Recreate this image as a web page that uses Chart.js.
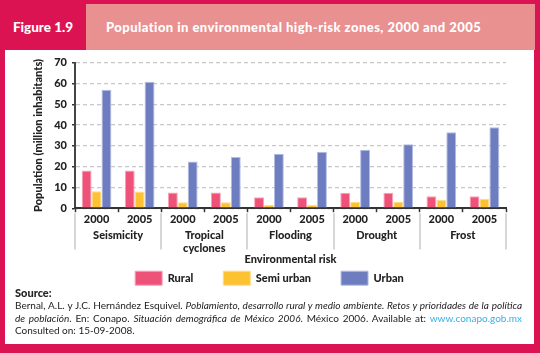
<!DOCTYPE html>
<html>
<head>
<meta charset="utf-8">
<script src="https://cdn.jsdelivr.net/npm/chart.js@4/dist/chart.umd.min.js"></script>
<style>
  html, body { margin:0; padding:0; }
  body { width:540px; height:353px; overflow:hidden; background:#DC1352; position:relative; font-family: Lato, "Open Sans", sans-serif; }
  #figlabel { position:absolute; left:0; top:4px; width:86px; height:46px; line-height:46px; text-align:center; color:#fff; font-weight:900; font-size:13.5px; }
  #titlebox { position:absolute; left:86px; top:4px; width:449px; height:46px; background:#E99191; }
  #titlebox span { position:absolute; left:20px; top:0; line-height:46px; color:#fff; font-weight:900; font-size:13px; letter-spacing:0.45px; white-space:nowrap; }
  #body { position:absolute; left:5px; top:50px; width:529px; height:294px; background:#fff; }
  #chart { position:absolute; left:5px; top:51px; }
  #source { position:absolute; left:15px; top:287px; width:507px; font-size:10px; color:#222; line-height:12.3px; }
  #source .hd { font-weight:900; font-size:11px; margin-bottom:0px; }
  #source .ln { display:block; text-align:justify; text-align-last:justify; white-space:nowrap; }
  #source .ln3 { display:block; }
  #source a { color:#3AAEE6; text-decoration:none; }
</style>
</head>
<body>
<div id="figlabel">Figure 1.9</div>
<div id="titlebox"><span>Population in environmental high-risk zones, 2000 and 2005</span></div>
<div id="body"></div>
<canvas id="chart" width="529" height="269"></canvas>
<div id="source">
  <div class="hd">Source:</div>
  <span class="ln">Bernal, A.L. y J.C. Hernández Esquivel. <i>Poblamiento, desarrollo rural y medio ambiente. Retos y prioridades de la política</i></span>
  <span class="ln"><i>de población</i>. En: Conapo. <i>Situación demográfica de México 2006</i>. México 2006. Available at: <a>www.conapo.gob.mx</a></span>
  <span class="ln3">Consulted on: 15-09-2008.</span>
</div>
<script>
// ---- data ----
const riskCategories = ["Seismicity", ["Tropical", "cyclones"], "Flooding", "Drought", "Frost"];
const years = ["2000", "2005"];
const rural     = [18.1, 18.1, 7.6, 7.6, 5.3, 5.3, 7.4, 7.4, 5.8, 5.8];
const semiUrban = [8.1, 8.0, 2.9, 2.9, 1.7, 1.6, 3.1, 3.1, 4.0, 4.5];
const urban     = [57.0, 60.8, 22.4, 24.6, 26.2, 27.1, 28.1, 30.8, 36.5, 38.9];
const yTicks = [0, 10, 20, 30, 40, 50, 60, 70];

const slotLabels = [];
riskCategories.forEach(() => years.forEach(y => slotLabels.push(y)));

const FONT = "Lato, 'Open Sans', sans-serif";
const DARK = "#222";
const W = '900';

const separators = {
  id: 'separators',
  afterLayout(chart) {
    const lg = chart.legend;
    const dy = lg.top - (chart.chartArea.bottom + 33);
    lg.top -= dy; lg.bottom -= dy;
    lg.left += 14; lg.right += 14;
  },
  afterDraw(chart) {
    const xs = chart.scales.x, x2 = chart.scales.x2;
    const ctx = chart.ctx;
    const n = riskCategories.length;
    ctx.save();
    ctx.strokeStyle = "#c9c9c9";
    ctx.lineWidth = 1.5;
    for (let i = 0; i <= n; i++) {
      const px = Math.round(xs.left + i * (xs.right - xs.left) / n);
      ctx.beginPath();
      ctx.moveTo(px, xs.top + 5);
      ctx.lineTo(px, x2.top + 22);
      ctx.stroke();
    }
    ctx.restore();
  }
};

new Chart(document.getElementById('chart'), {
  type: 'bar',
  data: {
    labels: slotLabels,
    datasets: [
      { label: 'Rural', data: rural, backgroundColor: '#EF5278', borderColor: '#F7A3B6', borderWidth: 1 },
      { label: 'Semi urban', data: semiUrban, backgroundColor: '#FDC232', borderColor: '#FEDC8A', borderWidth: 1 },
      { label: 'Urban', data: urban, backgroundColor: '#6E7DBF', borderColor: '#B3BCE3', borderWidth: 1 }
    ]
  },
  options: {
    responsive: false,
    devicePixelRatio: 1,
    animation: false,
    datasets: { bar: { categoryPercentage: 0.69, barPercentage: 1.0 } },
    layout: { padding: { left: 0, right: 28, top: 9, bottom: 0 } },
    plugins: {
      tooltip: { enabled: false },
      legend: {
        position: 'bottom',
        labels: {
          boxWidth: 27, boxHeight: 14, padding: 30,
          color: DARK,
          font: { family: FONT, size: 11, weight: W }
        }
      }
    },
    scales: {
      y: {
        min: 0, max: 70,
        afterFit(s) { s.width = 70; },
        afterBuildTicks(s) { s.ticks = yTicks.map(v => ({ value: v })); },
        ticks: { color: DARK, padding: 5, font: { family: FONT, size: 11, weight: W } },
        grid: { color: '#c8c8c8', lineWidth: 1.3, tickColor: '#333', tickLength: 3, tickWidth: 1.5 },
        border: { display: true, color: '#444', width: 2, dash: [4, 3] },
        title: { display: true, text: 'Population (million inhabitants)', color: DARK, padding: { top: 27, bottom: 0 },
                 font: { family: FONT, size: 11, weight: W } }
      },
      x: {
        type: 'category',
        offset: true,
        grid: { display: true, offset: true, drawOnChartArea: false, drawTicks: true, tickLength: 4, tickColor: '#333', tickWidth: 1.5 },
        border: { display: true, color: '#333', width: 2 },
        ticks: { color: DARK, padding: 1, maxRotation: 0, autoSkip: false, font: { family: FONT, size: 11, weight: W } }
      },
      x2: {
        type: 'category',
        position: 'bottom',
        labels: riskCategories,
        offset: true,
        grid: { display: false, drawTicks: false },
        border: { display: false },
        ticks: { color: DARK, padding: 1, maxRotation: 0, autoSkip: false, font: { family: FONT, size: 11, weight: W } },
        title: { display: true, text: 'Environmental risk', color: DARK, padding: { top: -3, bottom: 0 },
                 font: { family: FONT, size: 11, weight: W } }
      }
    }
  },
  plugins: [separators]
});
</script>
</body>
</html>
